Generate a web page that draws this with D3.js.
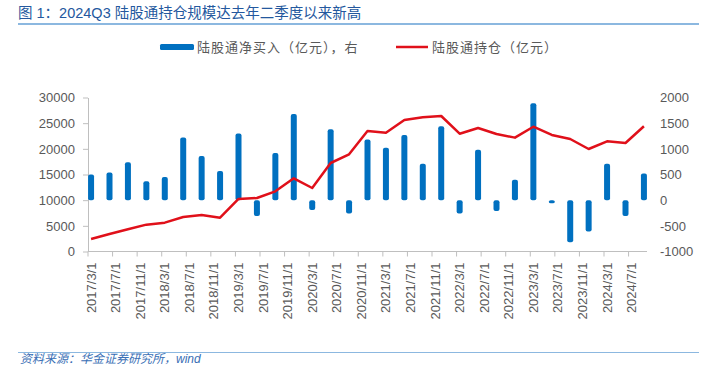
<!DOCTYPE html>
<html>
<head>
<meta charset="utf-8">
<script src="https://cdn.jsdelivr.net/npm/d3@7"></script>
<style>
  body { margin: 0; background: #fff; }
  svg text { font-family: "Liberation Sans", Arial, "Noto Sans CJK SC", sans-serif; }
</style>
</head>
<body>
<div id="viz"></div>
<script>
const width = 708;
const height = 366;
const plot = { left: 88, right: 647, top: 97.5, bottom: 251.5 };
const barColor = '#0070C0';
const lineColor = '#E0101A';
const textColor = '#595959';

// quarterly data points (year-month)
const quarters = [
  '2017-03', '2017-06', '2017-09', '2017-12',
  '2018-03', '2018-06', '2018-09', '2018-12',
  '2019-03', '2019-06', '2019-09', '2019-12',
  '2020-03', '2020-06', '2020-09', '2020-12',
  '2021-03', '2021-06', '2021-09', '2021-12',
  '2022-03', '2022-06', '2022-09', '2022-12',
  '2023-03', '2023-06', '2023-09', '2023-12',
  '2024-03', '2024-06', '2024-09'
];
// 陆股通净买入（亿元），right axis
const netBuy = [
  500, 540, 740, 370,
  450, 1220, 860, 570,
  1300, -310, 920, 1680,
  -190, 1380, -260, 1180,
  1020, 1270, 710, 1440,
  -260, 980, -210, 400,
  1890, -60, -820, -610,
  710, -310, 520
];
// 陆股通持仓（亿元），left axis
const holdings = [
  2430, 3400, 4320, 5230,
  5620, 6720, 7110, 6590,
  10230, 10420, 11720, 14260,
  12370, 17240, 18930, 23470,
  23150, 25620, 26140, 26400,
  22950, 24060, 22890, 22180,
  24310, 22700, 21920, 19970,
  21470, 21140, 24400
];
const leftTicks = [0, 5000, 10000, 15000, 20000, 25000, 30000];
const rightTicks = [-1000, -500, 0, 500, 1000, 1500, 2000];
const xTickLabels = [
  '2017/3/1', '2017/7/1', '2017/11/1', '2018/3/1', '2018/7/1', '2018/11/1',
  '2019/3/1', '2019/7/1', '2019/11/1', '2020/3/1', '2020/7/1', '2020/11/1',
  '2021/3/1', '2021/7/1', '2021/11/1', '2022/3/1', '2022/7/1', '2022/11/1',
  '2023/3/1', '2023/7/1', '2023/11/1', '2024/3/1', '2024/7/1'
];
const title = '图 1：2024Q3 陆股通持仓规模达去年二季度以来新高';
const legendBar = '陆股通净买入（亿元），右';
const legendLine = '陆股通持仓（亿元）';
const source = '资料来源：华金证券研究所，wind';

// monthly axis from the first to the last quarter
const parseMonth = d3.timeParse('%Y-%m');
const fmtMonth = d3.timeFormat('%Y-%m');
const months = d3.timeMonth.range(parseMonth(quarters[0]),
    d3.timeMonth.offset(parseMonth(quarters[quarters.length - 1]), 1)).map(fmtMonth);
const labelKey = s => { const p = s.split('/'); return p[0] + '-' + String(p[1]).padStart(2, '0'); };

const svg = d3.select('#viz').append('svg')
    .attr('width', width)
    .attr('height', height);

const x = d3.scaleBand().domain(months).range([plot.left, plot.right]).padding(0);
const yL = d3.scaleLinear().domain([0, 30000]).range([plot.bottom, plot.top]);
const yR = d3.scaleLinear().domain([-1000, 2000]).range([plot.bottom, plot.top]);
const cx = m => x(m) + x.bandwidth() / 2;

// title + rules
svg.append('text')
    .attr('x', 18).attr('y', 18)
    .attr('fill', '#24589E')
    .style('font-size', '14.5px')
    .text(title);
svg.append('line')
    .attr('x1', 18).attr('x2', 699).attr('y1', 24).attr('y2', 24)
    .attr('stroke', '#8CB8E0').attr('stroke-width', 2);
svg.append('line')
    .attr('x1', 18).attr('x2', 699).attr('y1', 352.5).attr('y2', 352.5)
    .attr('stroke', '#8CB8E0').attr('stroke-width', 1);
svg.append('text')
    .attr('x', 20).attr('y', 362.5)
    .attr('fill', '#3A6FB5')
    .style('font-size', '12px')
    .style('font-style', 'italic')
    .text(source);

// legend
svg.append('rect')
    .attr('x', 160).attr('y', 44).attr('width', 34).attr('height', 6)
    .attr('rx', 1.5).attr('fill', barColor);
svg.append('text')
    .attr('x', 197).attr('y', 47.5).attr('dy', '0.35em')
    .attr('fill', textColor).style('font-size', '13px')
    .style('letter-spacing', '1px')
    .text(legendBar);
svg.append('line')
    .attr('x1', 396).attr('x2', 428).attr('y1', 47).attr('y2', 47)
    .attr('stroke', lineColor).attr('stroke-width', 2.5);
svg.append('text')
    .attr('x', 432).attr('y', 47.5).attr('dy', '0.35em')
    .attr('fill', textColor).style('font-size', '13px')
    .style('letter-spacing', '1px')
    .text(legendLine);

// left axis
const leftAxis = svg.append('g')
    .attr('transform', `translate(${plot.left},0)`)
    .call(d3.axisLeft(yL).tickValues(leftTicks).tickFormat(d => d)
        .tickSizeInner(5).tickSizeOuter(0).tickPadding(8));
// right axis
const rightAxis = svg.append('g')
    .attr('transform', `translate(${plot.right},0)`)
    .call(d3.axisRight(yR).tickValues(rightTicks).tickFormat(d => d)
        .tickSize(0).tickPadding(13));
rightAxis.select('.domain').remove();
[leftAxis, rightAxis].forEach(g => {
    g.selectAll('text').attr('fill', textColor).style('font-size', '13px')
        .style('font-family', '"Liberation Sans", Arial, sans-serif');
    g.selectAll('line').attr('stroke', '#BFBFBF');
    g.select('.domain').attr('stroke', '#BFBFBF');
});

// bottom axis
const xg = svg.append('g')
    .attr('transform', `translate(0,${plot.bottom})`);
xg.append('line')
    .attr('x1', plot.left).attr('x2', plot.right)
    .attr('stroke', '#BFBFBF');
xg.selectAll('line.tick')
    .data(xTickLabels)
    .join('line')
    .attr('class', 'tick')
    .attr('x1', d => x(labelKey(d))).attr('x2', d => x(labelKey(d)))
    .attr('y1', 0).attr('y2', 5)
    .attr('stroke', '#BFBFBF');
xg.selectAll('text')
    .data(xTickLabels)
    .join('text')
    .attr('transform', d => `translate(${cx(labelKey(d))},11) rotate(-90)`)
    .attr('text-anchor', 'end')
    .attr('dy', '0.35em')
    .attr('fill', textColor)
    .style('font-size', '13px')
    .text(d => d);

// bars (right axis)
const barW = 6;
svg.append('g')
    .selectAll('rect')
    .data(quarters)
    .join('rect')
    .attr('x', (d) => cx(d) - barW / 2)
    .attr('y', (d, i) => yR(Math.max(0, netBuy[i])))
    .attr('width', barW)
    .attr('height', (d, i) => Math.abs(yR(netBuy[i]) - yR(0)))
    .attr('rx', 2)
    .attr('fill', barColor);

// holdings line (left axis)
const line = d3.line()
    .x(d => cx(d[0]))
    .y(d => yL(d[1]));
svg.append('path')
    .attr('d', line(quarters.map((q, i) => [q, holdings[i]])))
    .attr('fill', 'none')
    .attr('stroke', lineColor)
    .attr('stroke-width', 2.5)
    .attr('stroke-linejoin', 'round');
</script>
</body>
</html>
